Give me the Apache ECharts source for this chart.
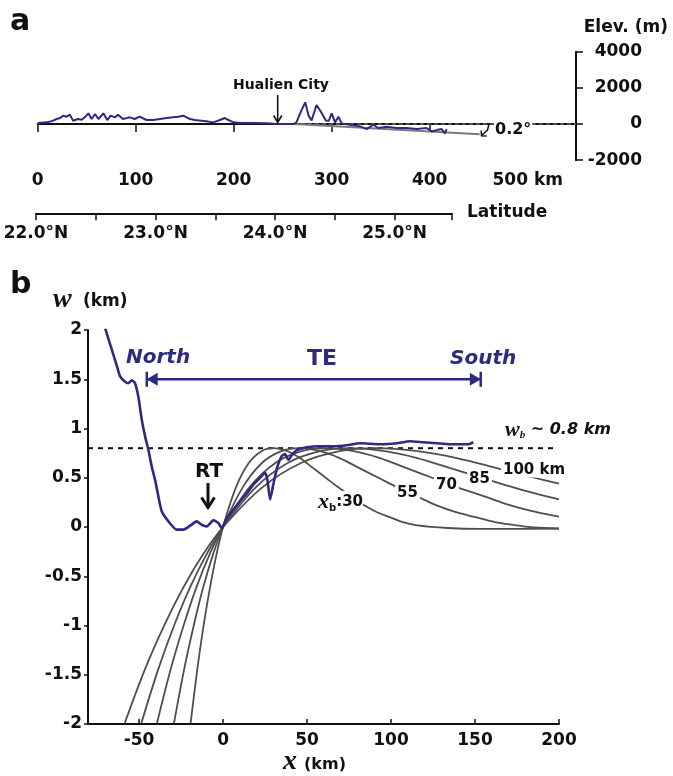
<!DOCTYPE html>
<html><head><meta charset="utf-8">
<script src="https://cdn.jsdelivr.net/npm/echarts@6/dist/echarts.min.js"></script>
<style>html,body{margin:0;padding:0;background:#fff}#c{width:673px;height:776px}</style>
</head><body><div id="c"></div><script>
// ---------- Panel a: coastal elevation profile ----------
const elevKm = [0.3, 9, 14, 19.3, 23, 26, 29.4, 32.8, 36.2, 41, 45, 48, 51.7, 55, 58.5, 62, 67, 71, 74.5, 79, 82, 87, 91, 94, 99, 104, 111, 118, 124.8, 131.6, 138, 143.5, 148.6, 152, 155.4, 160.5, 167, 172, 179, 186, 191, 194.6, 199.7, 206.5, 220, 233.6, 243.8, 254, 261, 264, 269, 273, 276.5, 279.5, 284.5, 289, 294, 297, 300, 303.4, 306.8, 310.2, 318.7, 329, 335.7, 342.4, 347.5, 356, 366.3, 376.5, 386.7, 396.9, 402, 407.1, 412.2, 415.6, 417.3];
const elevM = [55, 92, 150, 278, 330, 462, 407, 518, 185, 278, 240, 370, 592, 278, 555, 278, 592, 222, 462, 370, 518, 278, 330, 370, 278, 407, 222, 222, 278, 333, 370, 407, 462, 370, 278, 222, 185, 148, 92, 222, 333, 222, 92, 55, 55, 37, 0, 0, 0, 92, 740, 1200, 450, 200, 1050, 680, 200, 180, 590, 90, 405, 35, -40, -130, -280, -40, -220, -150, -220, -220, -280, -220, -410, -335, -280, -520, -280];
const slopeKm = [262, 451];
const slopeM = [0, -560];
const seaLevelKm = [240, 549.3];
const kmTicks = [0, 100, 200, 300, 400, 500];
const latTicks = [22, 22.5, 23, 23.5, 24, 24.5, 25, 25.48];
const latLabels = [22, 23, 24, 25];

// ---------- Panel b: deflection profile w(x) ----------
const profX = [-70.2, -67.3, -65.3, -63.3, -61.3, -58.3, -56.4, -54.3, -52.4, -50.4, -48.4, -46.4, -44.4, -42.4, -40.5, -38.5, -36.5, -32.5, -27.6, -23.6, -19.6, -15.7, -12.7, -9.7, -5.8, -2.8, -0.8, 2.2, 6.1, 10.1, 14.1, 18, 22, 25, 26.4, 28, 29.9, 32.3, 34.9, 36.9, 38.9, 40.9, 43.9, 49.8, 57.7, 65.7, 73.6, 81.5, 93.5, 103.4, 111.3, 119.2, 127.2, 135.1, 141.1, 146, 149];
const profW = [2.02, 1.86, 1.75, 1.64, 1.53, 1.475, 1.46, 1.49, 1.46, 1.32, 1.09, 0.92, 0.78, 0.61, 0.48, 0.31, 0.16, 0.057, -0.027, -0.027, 0.013, 0.057, 0.023, 0.006, 0.067, 0.04, -0.01, 0.09, 0.175, 0.26, 0.34, 0.43, 0.50, 0.55, 0.48, 0.28, 0.43, 0.61, 0.72, 0.74, 0.68, 0.73, 0.78, 0.81, 0.82, 0.82, 0.83, 0.85, 0.84, 0.85, 0.87, 0.86, 0.85, 0.84, 0.84, 0.84, 0.86];

const xb30X = [-19.3, -15.3, -11.5, -7.6, -3.8, 0, 7.6, 15.3, 22.9, 30, 38.2, 45.8, 53.5, 61.1, 68.8, 76.4, 84, 91.7, 99.3, 107, 114.6, 133.7, 152.8, 171.9, 200];
const xb30W = [-1.99, -1.44, -0.99, -0.60, -0.27, 0, 0.40, 0.65, 0.77, 0.80, 0.77, 0.70, 0.60, 0.50, 0.40, 0.31, 0.22, 0.15, 0.10, 0.05, 0.02, -0.01, -0.02, -0.02, -0.017];
const xb55X = [-29.2, -23.1, -17.3, -11.6, -5.8, 0, 11.6, 23.1, 34.7, 45.4, 57.8, 69.4, 80.9, 92.5, 104, 115.6, 127.2, 138.7, 150.3, 161.8, 173.4, 185, 200];
const xb55W = [-1.99, -1.44, -0.99, -0.60, -0.27, 0, 0.40, 0.65, 0.77, 0.80, 0.77, 0.70, 0.60, 0.50, 0.40, 0.31, 0.22, 0.15, 0.10, 0.05, 0.02, -0.005, -0.015];
const xb70X = [-39.3, -31.1, -23.3, -15.6, -7.8, 0, 15.6, 31.1, 46.7, 61.1, 77.8, 93.4, 108.9, 124.5, 140, 155.6, 171.2, 186.7, 200];
const xb70W = [-1.99, -1.44, -0.99, -0.60, -0.27, 0, 0.40, 0.65, 0.77, 0.80, 0.77, 0.70, 0.60, 0.50, 0.40, 0.31, 0.22, 0.15, 0.105];
const xb85X = [-48.6, -38.5, -28.9, -19.3, -9.6, 0, 19.3, 38.5, 57.8, 75.6, 96.3, 115.6, 134.8, 154.1, 173.3, 192.6, 200];
const xb85W = [-1.99, -1.44, -0.99, -0.60, -0.27, 0, 0.40, 0.65, 0.77, 0.80, 0.77, 0.70, 0.60, 0.50, 0.40, 0.31, 0.28];
const xb100X = [-58.5, -46.4, -34.8, -23.2, -11.6, 0, 23.2, 46.4, 69.5, 91, 115.9, 139.1, 162.3, 185.4, 200];
const xb100W = [-1.99, -1.44, -0.99, -0.60, -0.27, 0, 0.40, 0.65, 0.77, 0.80, 0.77, 0.70, 0.60, 0.50, 0.44];

const wbLevel = 0.8;
const teX = [-45.4, 153.4];
const teW = 1.5;
const xTicksB = [-50, 0, 50, 100, 150, 200];

// ---------- styling ----------
const NAVY = '#2e2a82';
const GRAY = '#4f4f4f';
const INK = '#111';
const SANS = '"DejaVu Sans"';
const SERIF = '"Liberation Serif"';
const zip = (xs, ys) => xs.map((x, i) => [x, ys[i]]);
const lbl = { fontFamily: 'DejaVu Sans', fontWeight: 'bold', fontSize: 17, color: INK };

const chart = echarts.init(document.getElementById('c'), null, { renderer: 'canvas' });

function curve(xs, ys) {
  return { type: 'line', xAxisIndex: 2, yAxisIndex: 2, data: zip(xs, ys), smooth: 0.35, symbol: 'none',
    lineStyle: { color: GRAY, width: 1.8 }, z: 2, silent: true };
}
function txt(x, y, text, font, opt) {
  return Object.assign({ type: 'text', x: x, y: y, z: 100, silent: true,
    style: Object.assign({ text: text, font: font, fill: INK, align: 'left', verticalAlign: 'middle' }, opt || {}) });
}
function poly(points, width) {
  return { type: 'polyline', z: 100, silent: true, shape: { points: points },
    style: { stroke: INK, lineWidth: width, fill: null } };
}

const option = {
  backgroundColor: '#fff',
  animation: false,
  grid: [
    { left: 37.7, top: 51.7, width: 538.3, height: 108.5 },
    { left: 36, top: 150, width: 416, height: 63.3 },
    { left: 88, top: 330, width: 471, height: 394 }
  ],
  xAxis: [
    { gridIndex: 0, type: 'value', min: 0, max: 549.3,
      axisLine: { lineStyle: { color: INK, width: 2 } },
      axisTick: { customValues: kmTicks, length: 8, lineStyle: { color: INK, width: 1.5 } },
      axisLabel: Object.assign({ customValues: kmTicks, margin: 12,
        formatter: v => v === 500 ? '500 km' : String(v) }, lbl),
      splitLine: { show: false } },
    { gridIndex: 1, type: 'value', min: 22, max: 25.48,
      axisLine: { lineStyle: { color: INK, width: 2 } },
      axisTick: { customValues: latTicks, length: 7, lineStyle: { color: INK, width: 1.5 } },
      axisLabel: Object.assign({ customValues: latLabels, margin: 12,
        formatter: v => v.toFixed(1) + '°N' }, lbl),
      splitLine: { show: false } },
    { gridIndex: 2, type: 'value', min: -80.4, max: 200,
      axisLine: { onZero: false, lineStyle: { color: INK, width: 2 } },
      axisTick: { customValues: xTicksB, inside: true, length: 5, lineStyle: { color: INK, width: 1.5 } },
      axisLabel: Object.assign({ customValues: xTicksB, margin: 8, formatter: v => String(v) }, lbl),
      splitLine: { show: false } }
  ],
  yAxis: [
    { gridIndex: 0, type: 'value', position: 'right', min: -2000, max: 4000, interval: 2000,
      axisLine: { show: true, onZero: false, lineStyle: { color: INK, width: 2 } },
      axisTick: { show: true, length: 7, lineStyle: { color: INK, width: 1.5 } },
      axisLabel: Object.assign({ margin: 66, align: 'right', formatter: v => String(v) }, lbl),
      splitLine: { show: false } },
    { gridIndex: 1, type: 'value', show: false },
    { gridIndex: 2, type: 'value', min: -2, max: 2, interval: 0.5,
      axisLine: { show: true, onZero: false, lineStyle: { color: INK, width: 2 } },
      axisTick: { show: true, length: 4, lineStyle: { color: INK, width: 1.5 } },
      axisLabel: Object.assign({ margin: 6, formatter: v => String(v) }, lbl),
      splitLine: { show: false } }
  ],
  series: [
    // panel a
    { type: 'line', xAxisIndex: 0, yAxisIndex: 0, data: seaLevelKm.map(k => [k, 0]), symbol: 'none',
      lineStyle: { color: '#666', width: 1.6, type: [4, 3] }, z: 1, silent: true },
    { type: 'line', xAxisIndex: 0, yAxisIndex: 0, data: zip(slopeKm, slopeM), symbol: 'none',
      lineStyle: { color: '#7a7a7a', width: 2 }, z: 1, silent: true },
    { type: 'line', xAxisIndex: 0, yAxisIndex: 0, data: zip(elevKm, elevM), symbol: 'none',
      lineStyle: { color: NAVY, width: 2 }, z: 3, silent: true },
    // panel b model curves
    curve(xb30X, xb30W), curve(xb55X, xb55W), curve(xb70X, xb70W), curve(xb85X, xb85W), curve(xb100X, xb100W),
    // wb level
    { type: 'line', xAxisIndex: 2, yAxisIndex: 2, data: [[-80.4, wbLevel], [198.6, wbLevel]], symbol: 'none',
      lineStyle: { color: INK, width: 2, type: [5, 5] }, z: 1, silent: true },
    // observed profile
    { type: 'line', xAxisIndex: 2, yAxisIndex: 2, data: zip(profX, profW), symbol: 'none', smooth: 0.2,
      lineStyle: { color: NAVY, width: 2.6 }, z: 4, silent: true },
    // TE arrow
    { type: 'line', xAxisIndex: 2, yAxisIndex: 2, data: teX.map(x => [x, teW]), symbol: 'none',
      lineStyle: { color: NAVY, width: 2.5 }, z: 4, silent: true },
    { type: 'line', xAxisIndex: 2, yAxisIndex: 2, data: [[teX[0], teW - 0.075], [teX[0], teW + 0.075]], symbol: 'none',
      lineStyle: { color: NAVY, width: 2.5 }, z: 4, silent: true },
    { type: 'line', xAxisIndex: 2, yAxisIndex: 2, data: [[teX[1], teW - 0.075], [teX[1], teW + 0.075]], symbol: 'none',
      lineStyle: { color: NAVY, width: 2.5 }, z: 4, silent: true },
    { type: 'scatter', xAxisIndex: 2, yAxisIndex: 2, silent: true, z: 4,
      itemStyle: { color: NAVY, opacity: 1 },
      data: [
        { value: [teX[0] + 3.2, teW], symbol: 'triangle', symbolRotate: 90, symbolSize: [13, 11] },
        { value: [teX[1] - 3.2, teW], symbol: 'triangle', symbolRotate: -90, symbolSize: [13, 11] }
      ] }
  ],
  graphic: [
    // panel a texts
    txt(10, 22, 'a', 'bold 30px ' + SANS),
    txt(668, 28, 'Elev. (m)', 'bold 17px ' + SANS, { align: 'right' }),
    txt(281, 85, 'Hualien City', 'bold 14px ' + SANS, { align: 'center' }),
    poly([[277.7, 95], [277.7, 122]], 1.6),
    poly([[273.6, 115.5], [277.7, 122.5], [281.8, 115.5]], 1.6),
    poly([[489, 124], [487.5, 130], [482, 135]], 1.5),
    poly([[481.2, 130.5], [481.5, 135.8], [486.5, 136]], 1.5),
    txt(494, 130, '0.2°', 'bold 16px ' + SANS, { backgroundColor: '#fff', padding: [0, 1] }),
    txt(467, 213, 'Latitude', 'bold 17px ' + SANS),
    // panel b texts
    txt(10, 285, 'b', 'bold 30px ' + SANS),
    txt(53, 300, 'w', 'bold italic 28px ' + SERIF),
    txt(83, 302, '(km)', 'bold 17px ' + SANS),
    txt(283, 762, 'x', 'bold italic 28px ' + SERIF),
    txt(304, 765, '(km)', 'bold 16px ' + SANS),
    txt(126, 358, 'North', 'italic bold 20px ' + SANS, { fill: NAVY }),
    txt(307, 359, 'TE', 'bold 22px ' + SANS, { fill: NAVY }),
    txt(450, 359, 'South', 'italic bold 20px ' + SANS, { fill: NAVY }),
    txt(195, 472, 'RT', 'bold 20px ' + SANS),
    poly([[208, 483], [208, 507]], 3),
    poly([[201.5, 497.5], [208, 507.5], [214.5, 497.5]], 3),
    { type: 'text', x: 505, y: 430, z: 100, silent: true,
      style: { text: '{w|w}{s|b}{t| ~ 0.8 km}', fill: INK, verticalAlign: 'middle',
        rich: { w: { font: 'bold italic 22px ' + SERIF, fill: INK },
                s: { font: 'bold italic 11px ' + SERIF, fill: INK, verticalAlign: 'bottom', padding: [8, 0, 0, 0] },
                t: { font: 'italic bold 16px ' + SANS, fill: INK } } } },
    { type: 'text', x: 318, y: 502, z: 100, silent: true,
      style: { text: '{w|x}{s|b}{t|:30}', fill: INK, verticalAlign: 'middle', backgroundColor: '#fff',
        rich: { w: { font: 'bold italic 22px ' + SERIF, fill: INK },
                s: { font: 'bold 10px ' + SANS, fill: INK, verticalAlign: 'bottom', padding: [8, 0, 0, 0] },
                t: { font: 'bold 15px ' + SANS, fill: INK } } } },
    txt(395, 493, '55', 'bold 15px ' + SANS, { backgroundColor: '#fff', padding: [0, 2] }),
    txt(434, 485, '70', 'bold 15px ' + SANS, { backgroundColor: '#fff', padding: [0, 2] }),
    txt(467, 479, '85', 'bold 15px ' + SANS, { backgroundColor: '#fff', padding: [0, 2] }),
    txt(501, 470, '100 km', 'bold 15px ' + SANS, { backgroundColor: '#fff', padding: [0, 2] })
  ]
};
chart.setOption(option);
</script></body></html>
